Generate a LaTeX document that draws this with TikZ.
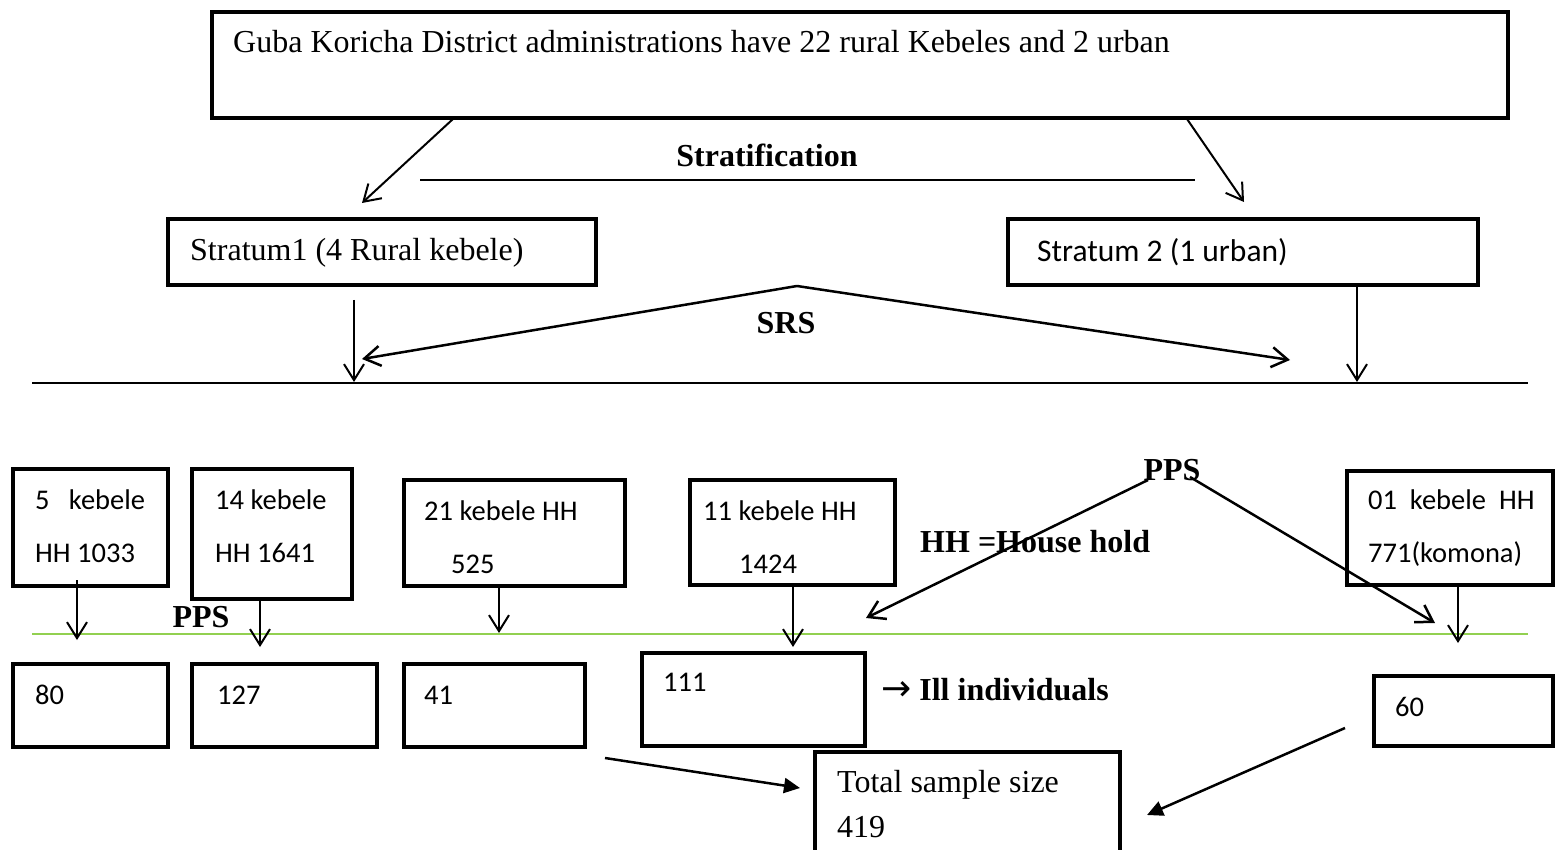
\documentclass[tikz,border=0pt]{standalone}
\usepackage{fontspec}
\setmainfont{Liberation Serif}
\newfontfamily\calfont{Carlito}
\newfontfamily\arrfont{DejaVu Sans}
\usetikzlibrary{arrows.meta,calc}
\definecolor{lgreen}{HTML}{92D050}
\tikzset{
  box/.style={draw,line width=4.5pt,rectangle,inner sep=0pt,outer sep=0pt},
  tnr/.style={font=\fontsize{32}{38}\selectfont,anchor=base west,inner sep=0pt},
  tnrb/.style={font=\fontsize{32}{38}\selectfont\bfseries,anchor=base,inner sep=0pt},
  cal/.style={font=\calfont\fontsize{28.5}{34}\selectfont,anchor=base west,inner sep=0pt},
  conn/.style={line width=2pt,-{Straight Barb[length=16pt,width=20pt]}},
  fconn/.style={line width=2.5pt,-{Triangle[length=16pt,width=15pt]}},
  rulel/.style={line width=2pt},
}
\begin{document}
\begin{tikzpicture}[x=1pt,y=-1pt]
\useasboundingbox (0,0) rectangle (1564,850);
\clip (0,0) rectangle (1564,850);

% boxes
\node[box,minimum width=1296pt,minimum height=106pt] (top) at (860,65) {};
\node[box,minimum width=428pt,minimum height=66pt] (s1) at (382,252) {};
\node[box,minimum width=470pt,minimum height=66pt] (s2) at (1243,252) {};
\node[box,minimum width=155pt,minimum height=117pt] (bA) at (90.5,527.5) {};
\node[box,minimum width=160pt,minimum height=130pt] (bB) at (272,534) {};
\node[box,minimum width=221pt,minimum height=106pt] (bC) at (514.5,533) {};
\node[box,minimum width=205pt,minimum height=105pt] (bD) at (792.5,532.5) {};
\node[box,minimum width=206pt,minimum height=114pt] (bE) at (1450,528) {};
\node[box,minimum width=155pt,minimum height=83pt] (r80) at (90.5,705.5) {};
\node[box,minimum width=185pt,minimum height=83pt] (r127) at (284.5,705.5) {};
\node[box,minimum width=181pt,minimum height=83pt] (r41) at (494.5,705.5) {};
\node[box,minimum width=223pt,minimum height=93pt] (r111) at (753.5,699.5) {};
\node[box,minimum width=179pt,minimum height=70pt] (r60) at (1463.5,711) {};
\node[box,minimum width=305pt,minimum height=146pt] (tot) at (967.5,825) {};

% texts
\node[tnr] (ttop) at (233,53) {Guba Koricha District administrations have 22 rural Kebeles and 2 urban};
\node[tnrb] (tstrat) at (767,167) {Stratification};
\node[tnr] (ts1) at (190,261) {Stratum1 (4 Rural kebele)};
\node[cal,font=\calfont\fontsize{31.5}{36}\selectfont] (ts2) at (1037,262) {Stratum 2 (1 urban)};
\node[tnrb] (tsrs) at (786,334) {SRS};
\node[cal] (tA1) at (35,509) {5\ \ \ kebele};
\node[cal] (tA2) at (35,562) {HH 1033};
\node[cal] (tB1) at (215,509) {14 kebele};
\node[cal] (tB2) at (215,562) {HH 1641};
\node[cal] (tC1) at (424,520) {21 kebele HH};
\node[cal] (tC2) at (451,573) {525};
\node[cal] (tD1) at (703,520) {11 kebele HH};
\node[cal] (tD2) at (739,573) {1424};
\node[cal] (tE1) at (1368,509) {01\ \ kebele\ \ HH};
\node[cal] (tE2) at (1368,562) {771(komona)};
\node[tnrb] (pps1) at (201,627) {PPS};
\node[tnrb] (pps2) at (1172,480) {PPS};
\node[tnrb,anchor=base west] (thh) at (920,552) {HH =House hold};
\node[cal] (t80) at (35,704) {80};
\node[cal] (t127) at (217,704) {127};
\node[cal] (t41) at (424,704) {41};
\node[cal] (t111) at (663,691) {111};
\node[cal] (t60) at (1395,716) {60};
\node[tnr] (till) at (881,700) {{\arrfont\fontsize{36}{40}\selectfont →} \textbf{Ill individuals}};
\node[tnr] (ttot1) at (837,792) {Total sample size};
\node[tnr] (ttot2) at (837,837) {419};

% coordinates
\coordinate (a1s) at (453,119); \coordinate (a1e) at (362,203);
\coordinate (a2s) at (1187,119); \coordinate (a2e) at (1244,202);
\coordinate (sl1) at (420,180); \coordinate (sl2) at (1195,180);
\coordinate (peak) at (797,286);
\coordinate (srsL) at (362,359); \coordinate (srsR) at (1290,360);
\coordinate (v1s) at (354,300); \coordinate (v1e) at (354,382);
\coordinate (v2s) at (1357,287); \coordinate (v2e) at (1357,382);
\coordinate (bl1) at (32,383); \coordinate (bl2) at (1528,383);
\coordinate (gl1) at (32,634); \coordinate (gl2) at (1528,634);
\coordinate (vAs) at (77,580); \coordinate (vAe) at (77,640);
\coordinate (vBs) at (260,601); \coordinate (vBe) at (260,647);
\coordinate (vCs) at (499,588); \coordinate (vCe) at (499,633);
\coordinate (vDs) at (793,587); \coordinate (vDe) at (793,647);
\coordinate (vEs) at (1458,583); \coordinate (vEe) at (1458,643);
\coordinate (p1s) at (1148,480); \coordinate (p1e) at (866,618);
\coordinate (p2s) at (1190,477); \coordinate (p2e) at (1435,623);
\coordinate (f1s) at (605,758); \coordinate (f1e) at (800,788);
\coordinate (f2s) at (1345,728); \coordinate (f2e) at (1147,815);

% connectors
\draw[conn] (a1s) -- (a1e);
\draw[conn] (a2s) -- (a2e);
\draw[rulel] (sl1) -- (sl2);
\draw[conn,line width=2.5pt] (peak) -- (srsL);
\draw[conn,line width=2.5pt] (peak) -- (srsR);
\draw[conn] (v1s) -- (v1e);
\draw[conn] (v2s) -- (v2e);
\draw[rulel] (bl1) -- (bl2);
\draw[lgreen,line width=1.6pt] (gl1) -- (gl2);
\draw[conn] (vAs) -- (vAe);
\draw[conn] (vBs) -- (vBe);
\draw[conn] (vCs) -- (vCe);
\draw[conn] (vDs) -- (vDe);
\draw[conn] (vEs) -- (vEe);
\draw[conn,line width=2.5pt] (p1s) -- (p1e);
\draw[conn,line width=2.5pt] (p2s) -- (p2e);
\draw[fconn] (f1s) -- (f1e);
\draw[fconn] (f2s) -- (f2e);
\end{tikzpicture}
\end{document}
